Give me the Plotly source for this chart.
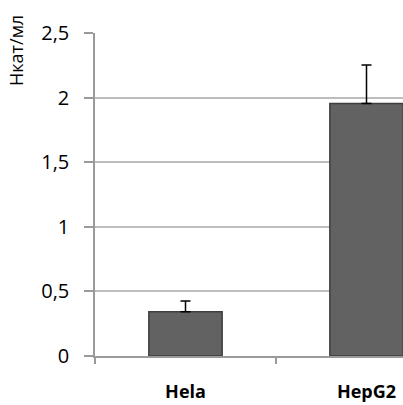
import plotly.graph_objects as go

categories = ["Hela", "HepG2"]
values = [0.343, 1.955]
errors_plus = [0.083, 0.297]
errors_minus = [0, 0]
y_ticks = [0, 0.5, 1, 1.5, 2, 2.5]
y_title = "Нкат/мл"

W, H = 403, 405
L, R, T, B = 95, 0, 33, 49
pw = W - L - R
ph = H - T - B

fig = go.Figure()
fig.add_trace(go.Bar(
    x=categories, y=values, width=0.405,
    marker=dict(color="#626262", line=dict(color="#3e3e3e", width=1.5)),
    error_y=dict(type="data", symmetric=False, array=errors_plus, arrayminus=errors_minus,
                 color="#000000", thickness=1.5, width=5),
))

fig.add_annotation(
    text=y_title, textangle=-90, showarrow=False,
    xref="paper", yref="paper",
    x=(16 - L) / pw, y=(H - B - 51) / ph,
    xanchor="center", yanchor="middle",
    font=dict(family="Open Sans", size=18, color="#000000"),
)

fig.update_layout(
    width=W, height=H,
    margin=dict(l=L, r=R, t=T, b=B, pad=0),
    paper_bgcolor="white", plot_bgcolor="white",
    separators=", ",
    showlegend=False,
    bargap=0.6,
    font=dict(family="Open Sans", color="#000000"),
)
fig.update_xaxes(
    range=[-0.5, -0.5 + pw / 181.0],
    tickson="boundaries", ticks="outside", ticklen=6, tickcolor="#9a9a9a", tickwidth=1.5,
    showline=True, linecolor="#9a9a9a", linewidth=1.5,
    showgrid=False,
    tickfont=dict(family="Open Sans", size=18, color="#000000", weight="bold"),
    ticklabelstandoff=19,
)
fig.update_yaxes(
    range=[0, 2.5], tickvals=y_ticks,
    ticks="outside", ticklen=9, tickcolor="#9a9a9a", tickwidth=1.5,
    showline=True, linecolor="#9a9a9a", linewidth=1.5,
    showgrid=True, gridcolor="#bdbdbd", gridwidth=1.5,
    zeroline=False,
    tickfont=dict(family="Open Sans", size=20, color="#000000"),
    ticklabelstandoff=11,
)

fig.write_html("out.html")
